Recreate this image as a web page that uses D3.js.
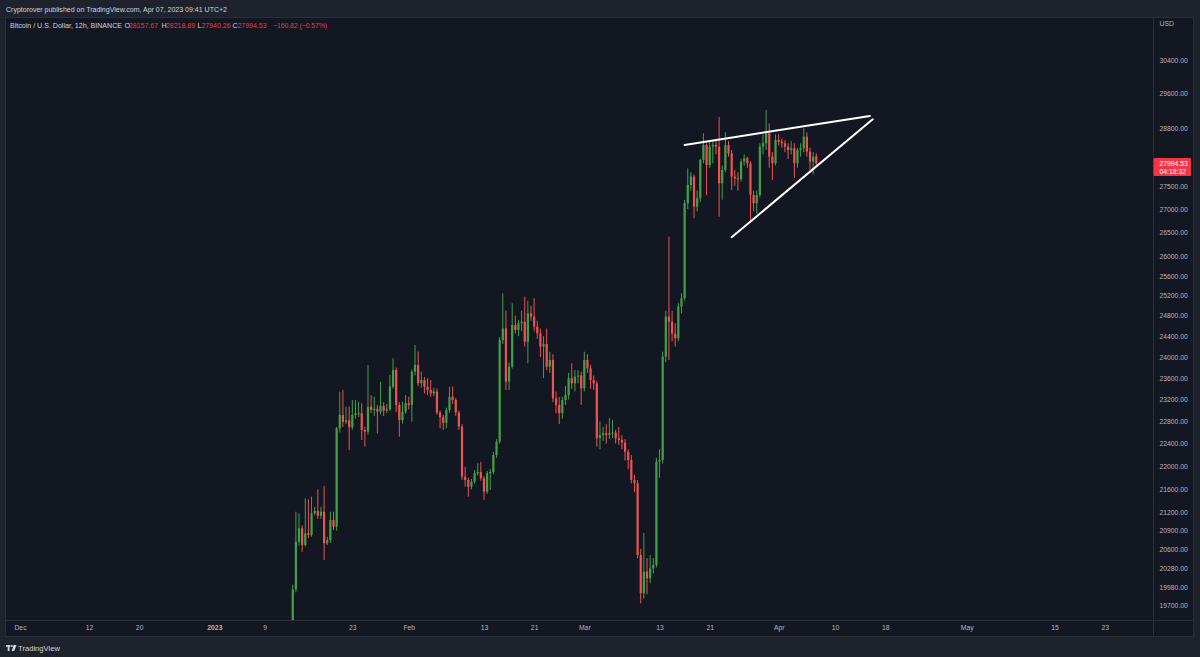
<!DOCTYPE html>
<html><head><meta charset="utf-8">
<script src="https://cdn.jsdelivr.net/npm/d3@7"></script>
<style>
html,body{margin:0;padding:0;background:#1e222d;}
svg{display:block;font-family:"Liberation Sans","DejaVu Sans",Arial,sans-serif;}
</style></head><body>
<svg id="c" width="1200" height="657"></svg>
<script>
// ---- data (12h candles, BTC/USD Binance) ----
const firstCandle = "2023-01-13T12:00:00Z";   // open time of first visible candle
const candleHours = 12;
const open = [19150,19948,20718,20940,20664,20857,20829,21192,21230,21151,21218,20692,20746,21079,20967,22675,22917,22794,22820,22693,
22917,22946,22950,22645,22614,23068,23008,23030,22977,23081,22995,23021,23439,23753,23100,22826,22977,23131,23100,23721,
23848,23503,23564,23439,23377,23315,23350,22960,22876,22777,23008,23253,23192,22960,22705,21818,21761,21646,21732,21878,
21900,21790,21560,21878,21900,22198,22435,24327,24554,23532,23816,24619,24521,24652,24684,24294,24849,24783,24586,24456,
24198,24250,23816,23943,23223,23100,22950,23192,23284,23596,23501,23627,23650,23409,23943,23785,23564,23500,22496,22555,
22585,22555,22585,22600,22496,22465,22420,22257,22110,21761,21704,20500,19884,20230,20123,20284,20338,22080,22110,24006,
24783,24684,24450,24359,24981,25148,27124,27520,27705,27051,27232,28075,28412,27963,28375,28412,28375,27558,27852,28412,
28224,27705,27668,27650,28037,28112,28000,27303,27124,27303,28375,28450,28678,28150,28000,28525,28487,28450,28375,28299,
28337,28000,28299,28337,28600,28262,28037,28157.67];
const high = [20020,21218,21190,20990,21446,21430,21473,21300,21600,21300,21656,20800,21218,21218,22700,23345,23377,23068,23068,23192,
23192,23160,23131,22700,23848,23280,23253,23100,23532,23150,23120,23659,23975,23800,23150,23160,23285,23253,23760,24231,
24102,23721,23620,23596,23564,23420,23409,23000,22920,23050,23439,23439,23230,23000,22750,21992,21800,21780,21935,22052,
22080,21830,21920,21950,22250,22480,24380,25248,24900,23900,25048,24800,24720,24900,25181,25100,25000,25150,24700,24550,
24400,24550,24100,24050,23350,23250,23250,23450,23700,23880,23750,23750,23720,24100,24050,23850,23650,23550,22796,22700,
22750,22862,22830,22650,22700,22550,22480,22300,22200,21850,21760,20600,20860,20450,20500,20450,22150,22300,24100,24900,
26412,24900,24650,25050,25250,27195,27889,27800,27750,27400,28100,28678,28450,28500,28500,28550,29050,27950,28700,28500,
28300,27850,27800,28100,28200,28150,28050,27400,27400,28450,28650,29215,28900,28250,28650,28650,28550,28520,28450,28500,
28450,28350,28450,28792,28700,28350,28250,28218.89];
const low = [19050,19900,20650,20554,20637,20780,20800,21160,21100,21100,20418,20664,20700,20912,20900,22600,22700,22750,22287,22650,
22850,22880,22465,22346,22560,22950,22900,22585,22930,22900,22950,22990,23400,22970,22525,22760,22940,23020,22795,23650,
23450,23420,23315,23285,23250,23260,22920,22675,22645,22675,22960,23120,22900,22650,21761,21646,21474,21600,21700,21840,
21750,21420,21520,21588,21860,22150,22400,24250,23377,23380,23780,24450,24400,24500,24200,23880,24700,24500,24350,24000,
23600,23750,23700,23150,22950,22750,22850,23100,23200,23400,23350,23500,23100,23350,23700,23400,23380,22346,22300,22450,
22400,22480,22500,22400,22380,22300,22100,21950,21700,21550,20450,19726,19800,19870,20050,20200,20300,21800,22050,23900,
23943,24300,24198,24300,24850,25100,27000,27400,26800,26950,27150,28000,27300,27900,28000,28200,26835,27200,27800,28150,
27412,27500,27400,27600,27950,27900,26700,26950,26900,27250,28200,28300,27900,27630,27950,28400,28350,28250,28100,28200,
27675,27900,28150,28250,28150,27850,27750,27940.26];
const close = [19948,20718,20940,20664,20857,20829,21192,21230,21151,21218,20692,20746,21079,20967,22675,22917,22794,22820,22693,22917,
22946,22950,22645,22614,23068,23008,23030,22977,23081,22995,23021,23439,23753,23100,22826,22977,23131,23100,23721,23848,
23503,23564,23439,23377,23315,23350,22960,22876,22777,23008,23253,23192,22960,22705,21818,21761,21646,21732,21878,21900,
21790,21560,21878,21900,22198,22435,24327,24554,23532,23816,24619,24521,24652,24684,24294,24849,24783,24586,24456,24198,
24250,23816,23943,23223,23100,22950,23192,23284,23596,23501,23627,23650,23409,23943,23785,23564,23500,22496,22555,22585,
22555,22585,22600,22496,22465,22420,22257,22110,21761,21704,20500,19884,20230,20123,20284,20338,22080,22110,24006,24783,
24684,24450,24359,24981,25148,27124,27520,27705,27051,27232,28075,28412,27963,28375,28412,28375,27558,27852,28412,28224,
27705,27668,27650,28037,28112,28000,27303,27124,27303,28375,28450,28678,28150,28000,28525,28487,28450,28375,28299,28337,
28000,28299,28337,28600,28262,28037,28150,27994.53];

const priceTicks = [30400,29600,28800,27500,27000,26500,26000,25600,25200,24800,24400,24000,23600,23200,22800,22400,22000,21600,21200,20900,20600,20280,19980,19700];
const timeTicks = ["2022-12-01","2022-12-12","2022-12-20","2023-01-01","2023-01-09","2023-01-23","2023-02-01","2023-02-13","2023-02-21","2023-03-01","2023-03-13","2023-03-21","2023-04-01","2023-04-10","2023-04-18","2023-05-01","2023-05-15","2023-05-23"];
const timeTickLabels = ["Dec","12","20","2023","9","23","Feb","13","21","Mar","13","21","Apr","10","18","May","15","23"];

const upperTrend = [["2023-03-17T00:00:00Z",28412],["2023-04-15T13:00:00Z",29076]];
const lowerTrend = [["2023-03-24T12:00:00Z",26400],["2023-04-16T00:00:00Z",28998]];

const lastPrice = 27994.53;
const countdown = "04:18:32";
const headerText = "Cryptorover published on TradingView.com, Apr 07, 2023 09:41 UTC+2";
const symbolText = "Bitcoin / U.S. Dollar, 12h, BINANCE";
const ohlcLabels = ["O","H","L","C"];
const ohlcValues = ["28157.67","28218.89","27940.26","27994.53"];
const changeText = "\u2212160.82 (\u22120.57%)";

// ---- drawing ----
const UP = "#43a047", DOWN = "#ef5350";
const svg = d3.select("#c");
const W = 1200, H = 657;
const panel = {x0: 5.5, y0: 17.5, x1: 1193.5, y1: 636.5};
const axisX = 1153.5, axisY = 620.5;

svg.append("rect").attr("width", W).attr("height", H).attr("fill", "#1e222d");
svg.append("rect").attr("x", panel.x0).attr("y", panel.y0)
  .attr("width", panel.x1 - panel.x0).attr("height", panel.y1 - panel.y0)
  .attr("fill", "#131722").attr("stroke", "#2a2e39");
svg.append("line").attr("x1", axisX).attr("x2", axisX).attr("y1", panel.y0).attr("y2", panel.y1).attr("stroke", "#2a2e39");
svg.append("line").attr("x1", panel.x0).attr("x2", panel.x1).attr("y1", axisY).attr("y2", axisY).attr("stroke", "#2a2e39");

const pxPerDay = 6.27;
const tStart = new Date("2022-12-01T00:00:00Z"), tEnd = new Date("2023-05-31T00:00:00Z");
const x = d3.scaleUtc().domain([tStart, tEnd]).range([20, 20 + 181 * pxPerDay]);
const y = d3.scaleLog().domain([19700, 30400]).range([605, 60]);

svg.append("clipPath").attr("id", "plot").append("rect")
  .attr("x", 6).attr("y", 18).attr("width", axisX - 6.5).attr("height", axisY - 18.5);

const t0 = new Date(firstCandle).getTime();
const candles = open.map((o, i) => ({
  t: new Date(t0 + i * candleHours * 3600e3), o, h: high[i], l: low[i], c: close[i]
}));

const g = svg.append("g").attr("clip-path", "url(#plot)");
const cg = g.selectAll("g.c").data(candles).join("g").attr("class", "c");
cg.append("line")
  .attr("x1", d => x(d.t)).attr("x2", d => x(d.t))
  .attr("y1", d => y(d.h)).attr("y2", d => y(d.l))
  .attr("stroke", d => d.c >= d.o ? UP : DOWN).attr("stroke-width", 1);
cg.append("rect")
  .attr("x", d => x(d.t) - 1.1).attr("width", 2.2)
  .attr("y", d => y(Math.max(d.o, d.c)))
  .attr("height", d => Math.max(1, Math.abs(y(d.o) - y(d.c))))
  .attr("fill", d => d.c >= d.o ? UP : DOWN);

const line = d3.line().x(d => x(new Date(d[0]))).y(d => y(d[1]));
[upperTrend, lowerTrend].forEach(tr => {
  g.append("path").attr("d", line(tr)).attr("fill", "none")
    .attr("stroke", "#ffffff").attr("stroke-width", 2).attr("stroke-linecap", "round");
});

// price axis
const yAxis = d3.axisRight(y).tickValues(priceTicks).tickFormat(d3.format(".2f")).tickSize(0).tickPadding(0);
const ya = svg.append("g").attr("transform", "translate(1159.5,0)").call(yAxis);
ya.select(".domain").remove();
ya.selectAll("text").attr("fill", "#b2b5be").attr("font-size", 6.8).attr("font-family", "Liberation Sans, DejaVu Sans, sans-serif");
svg.append("text").attr("x", 1159.5).attr("y", 25.5).text("USD")
  .attr("fill", "#b2b5be").attr("font-size", 6.8);

// last price label
const ly = y(lastPrice);
svg.append("rect").attr("x", axisX).attr("y", ly - 5.5).attr("width", 37.5).attr("height", 18).attr("fill", "#f23645").attr("rx", 1);
svg.append("text").attr("x", 1159.5).attr("y", ly + 2.6).text(d3.format(".2f")(lastPrice))
  .attr("fill", "#ffffff").attr("font-size", 6.8);
svg.append("text").attr("x", 1159.5).attr("y", ly + 10.4).text(countdown)
  .attr("fill", "#ffffff").attr("font-size", 6.8);

// time axis
const tickDates = timeTicks.map(s => new Date(s + "T00:00:00Z"));
const xAxis = d3.axisBottom(x).tickValues(tickDates)
  .tickFormat((d, i) => timeTickLabels[i]).tickSize(0).tickPadding(0);
const xa = svg.append("g").attr("transform", "translate(0,625.5)").call(xAxis);
xa.select(".domain").remove();
xa.selectAll("text").attr("fill", "#b2b5be").attr("font-size", 6.8).attr("font-family", "Liberation Sans, DejaVu Sans, sans-serif")
  .attr("font-weight", (d, i) => timeTickLabels[i] === "2023" ? "bold" : null);

// header texts
svg.append("text").attr("x", 6).attr("y", 11.5).text(headerText)
  .attr("fill", "#d1d4dc").attr("font-size", 7.8).attr("textLength", 221).attr("lengthAdjust", "spacingAndGlyphs");
svg.append("text").attr("x", 10).attr("y", 27.8).text(symbolText)
  .attr("fill", "#d1d4dc").attr("font-size", 7.2).attr("textLength", 112).attr("lengthAdjust", "spacingAndGlyphs");
const labX = [124.5, 161.5, 197.5, 232.5];
const valX = [129, 166, 201.5, 237.5];
ohlcLabels.forEach((l, i) => {
  svg.append("text").attr("x", labX[i]).attr("y", 27.8).text(l).attr("fill", "#d1d4dc").attr("font-size", 7.2);
  svg.append("text").attr("x", valX[i]).attr("y", 27.8).text(ohlcValues[i]).attr("fill", "#f23645").attr("font-size", 7.2)
    .attr("textLength", 29).attr("lengthAdjust", "spacingAndGlyphs");
});
svg.append("text").attr("x", 273).attr("y", 27.8).text(changeText).attr("fill", "#f23645").attr("font-size", 7.2)
  .attr("textLength", 54).attr("lengthAdjust", "spacingAndGlyphs");

// TradingView logo
const logo = svg.append("g").attr("transform", "translate(6,645)").attr("fill", "#d1d4dc");
logo.append("rect").attr("x", 0).attr("y", 0).attr("width", 4.5).attr("height", 1.8);
logo.append("rect").attr("x", 1.7).attr("y", 0).attr("width", 1.8).attr("height", 6);
logo.append("circle").attr("cx", 6).attr("cy", 1).attr("r", 0.9);
logo.append("path").attr("d", "M7.6,0 L10.6,0 L8.2,6 L5.6,6 Z");
svg.append("text").attr("x", 18).attr("y", 651).text("TradingView").attr("fill", "#d1d4dc").attr("font-size", 8)
  .attr("textLength", 42).attr("lengthAdjust", "spacingAndGlyphs");
</script>
</body></html>
